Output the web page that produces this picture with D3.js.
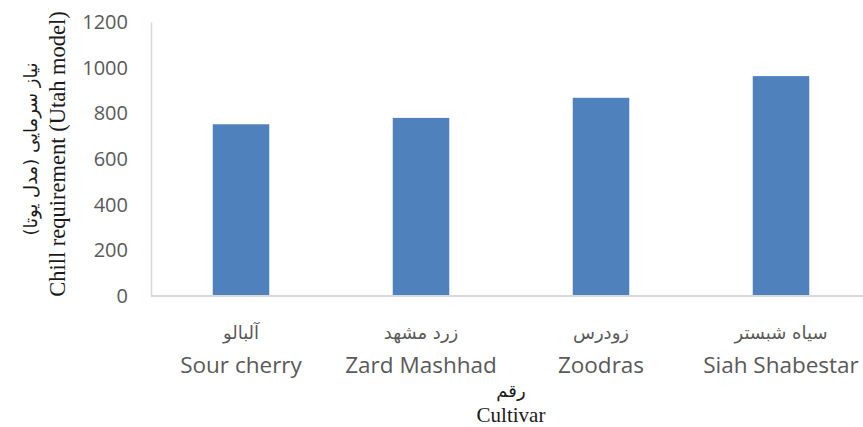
<!DOCTYPE html>
<html lang="en">
  <head>
    <meta charset="UTF-8" />
    <title>Chill requirement</title>
    <script src="https://cdn.jsdelivr.net/npm/d3@7"></script>
  </head>
  <body>
    <svg></svg>
    <style>
      body { margin: 0; background: #fff; }
      svg { width: 863px; height: 427px; display: block; }
    </style>
    <script>
      const cultivars = ["Sour cherry", "Zard Mashhad", "Zoodras", "Siah Shabestar"];
      const cultivarsFa = ["آلبالو", "زرد مشهد", "زودرس", "سیاه شبستر"];
      const chill = [752, 780, 868, 963];
      const yTicks = [0, 200, 400, 600, 800, 1000, 1200];

      const svg = d3.select("svg");
      const plotLeft = 151, plotRight = 871, plotTop = 22, plotBottom = 296;

      const xScale = d3.scaleBand().domain(cultivars).range([plotLeft, plotRight])
        .paddingInner(0.686).paddingOuter(0.343);
      const yScale = d3.scaleLinear().domain([0, 1200]).range([plotBottom, plotTop]);

      // y axis
      const yAxis = d3.axisLeft(yScale).tickValues(yTicks).tickFormat(d3.format("d"))
        .tickSize(0).tickSizeOuter(0).tickPadding(23);
      const gy = svg.append("g").attr("transform", `translate(${plotLeft},0)`).call(yAxis);
      gy.select(".domain").attr("stroke", "#d9d9d9").attr("stroke-width", 1.5);
      gy.selectAll("text").attr("font-family", "'Open Sans', sans-serif")
        .attr("font-size", 20).attr("fill", "#595959");

      // bars
      svg.append("g").selectAll("rect").data(chill).join("rect")
        .attr("x", (d, i) => xScale(cultivars[i]))
        .attr("y", d => yScale(d))
        .attr("width", xScale.bandwidth())
        .attr("height", d => yScale(0) - yScale(d))
        .attr("fill", "#4f81bd");

      // x axis line
      svg.append("line").attr("x1", plotLeft).attr("x2", 863)
        .attr("y1", plotBottom).attr("y2", plotBottom)
        .attr("stroke", "#d9d9d9").attr("stroke-width", 2);

      // category labels
      const cx = i => xScale(cultivars[i]) + xScale.bandwidth() / 2;
      svg.append("g").selectAll("text").data(cultivarsFa).join("text")
        .attr("x", (d, i) => cx(i)).attr("y", 339)
        .attr("text-anchor", "middle")
        .attr("font-family", "'DejaVu Sans', sans-serif")
        .attr("font-size", 18).attr("fill", "#595959")
        .text(d => d);
      svg.append("g").selectAll("text").data(cultivars).join("text")
        .attr("x", (d, i) => cx(i)).attr("y", 373)
        .attr("text-anchor", "middle")
        .attr("font-family", "'Open Sans', sans-serif")
        .attr("font-size", 22.5).attr("fill", "#595959")
        .text(d => d);

      // x axis title
      svg.append("text").attr("x", 511).attr("y", 397).attr("text-anchor", "middle")
        .attr("font-family", "'DejaVu Sans', sans-serif").attr("font-size", 18)
        .attr("fill", "#1a1a1a").text("رقم");
      svg.append("text").attr("x", 511).attr("y", 421.5).attr("text-anchor", "middle")
        .attr("font-family", "'Liberation Serif', serif").attr("font-size", 21)
        .attr("fill", "#1a1a1a").text("Cultivar");

      // y axis title
      svg.append("text").attr("transform", "translate(37,149) rotate(-90)")
        .attr("text-anchor", "middle")
        .attr("font-family", "'DejaVu Sans', sans-serif").attr("font-size", 18)
        .attr("fill", "#1a1a1a").text("نیاز سرمایی (مدل یوتا)");
      svg.append("text").attr("transform", "translate(65,154) rotate(-90)")
        .attr("text-anchor", "middle")
        .attr("font-family", "'Liberation Serif', serif").attr("font-size", 22.5)
        .attr("fill", "#1a1a1a").text("Chill requirement (Utah model)");
    </script>
  </body>
</html>
